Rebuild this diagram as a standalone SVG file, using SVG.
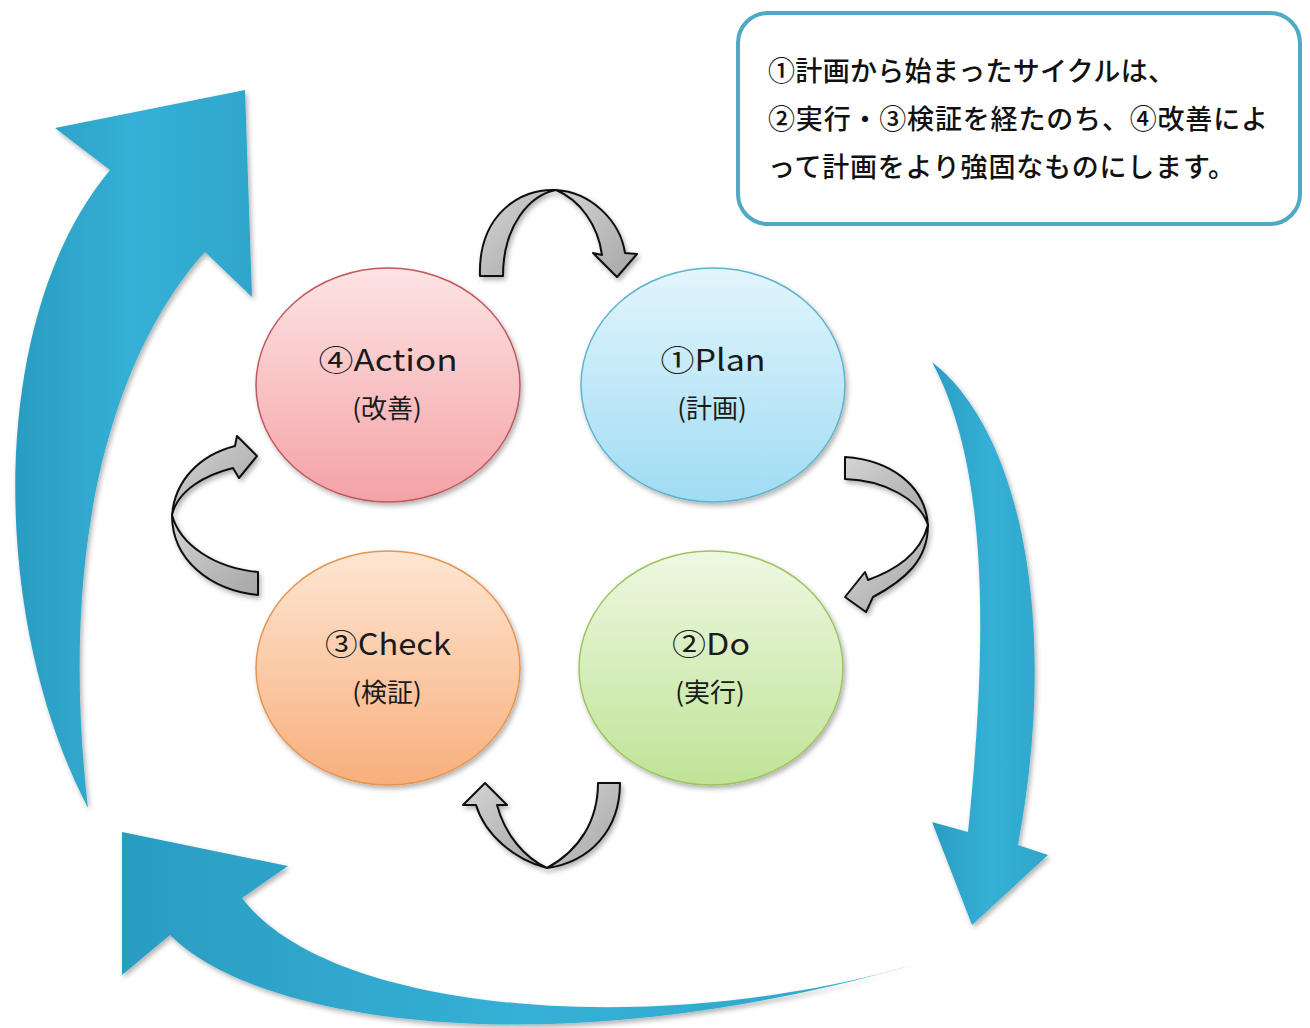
<svg xmlns="http://www.w3.org/2000/svg" width="1310" height="1028" viewBox="0 0 1310 1028">
<style>
.lbl{font-family:"Noto Sans CJK JP","Noto Sans",sans-serif;fill:#1a1a1a;text-anchor:middle}
.big{font-size:30px}
.sub{font-size:26px}
.note{font-family:"Noto Sans CJK JP",sans-serif;font-size:27px;font-weight:500;fill:#111}
.gray{fill:url(#gGray);stroke:#111;stroke-width:2;stroke-linejoin:round;filter:url(#sh)}
.blue{fill:url(#gBlue);filter:url(#sh)}
</style>
<defs>
<filter id="sh" x="-20%" y="-20%" width="140%" height="140%">
<feDropShadow dx="2" dy="3" stdDeviation="2.5" flood-color="#000" flood-opacity="0.3"/>
</filter>
<linearGradient id="gGray" x1="0" y1="0" x2="1" y2="1">
<stop offset="0" stop-color="#d4d4d4"/><stop offset="1" stop-color="#a6a6a6"/>
</linearGradient>
<linearGradient id="gBlue" x1="0" y1="0" x2="1" y2="0">
<stop offset="0" stop-color="#2b9cc2"/><stop offset="0.5" stop-color="#35b0d6"/><stop offset="1" stop-color="#2fa6cc"/>
</linearGradient>
<linearGradient id="gRed" x1="0" y1="0" x2="0" y2="1">
<stop offset="0" stop-color="#fde4e4"/><stop offset="1" stop-color="#f4a2a6"/>
</linearGradient>
<linearGradient id="gBlueC" x1="0" y1="0" x2="0" y2="1">
<stop offset="0" stop-color="#e3f5fc"/><stop offset="1" stop-color="#9fdcf3"/>
</linearGradient>
<linearGradient id="gOrange" x1="0" y1="0" x2="0" y2="1">
<stop offset="0" stop-color="#fee6d3"/><stop offset="1" stop-color="#f8af7c"/>
</linearGradient>
<linearGradient id="gGreen" x1="0" y1="0" x2="0" y2="1">
<stop offset="0" stop-color="#eef8e2"/><stop offset="1" stop-color="#c0e396"/>
</linearGradient>
</defs>
<rect width="1310" height="1028" fill="#fff"/>

<g id="connectors">
<!-- big blue arrows -->
<path class="blue" d="M88,808 C-10,620 -15,320 110,170 L55,128 L245,90 L252,297 L205,252 C125,340 55,520 88,808 Z"/>
<path class="blue" d="M932,362 C1020,430 1060,620 1018,845 L1048,855 L972,925 L932,822 L968,832 C990,620 985,460 932,362 Z"/>
<path class="blue" d="M919,963 C660,1040 330,1015 242,898 L288,866 L122,832 L122,975 L170,935 C260,1025 560,1068 919,963 Z"/>
<!-- gray ribbon arrows -->
<path class="gray" d="M480,276 C478,215 520,188 556,190 C530,195 503,225 503,276 Z"/>
<path class="gray" d="M556,190 C590,192 620,220 625,253 L637,254 L617,277 L593,253 L602,255 C598,225 580,200 556,190 Z"/>
<path class="gray" d="M172,515 C175,480 200,455 235,446 L237,436 L257,456 L239,478 L233,468 C205,475 178,490 172,515 Z"/>
<path class="gray" d="M172,515 C172,560 210,590 258,595 L258,572 C215,568 180,545 172,515 Z"/>
<path class="gray" d="M845,457 C890,460 925,485 928,525 C920,500 885,480 845,479 Z"/>
<path class="gray" d="M928,525 C928,560 905,580 873,597 L866,612 L845,597 L865,572 L868,580 C895,570 920,555 928,525 Z"/>
<path class="gray" d="M598,783 L620,783 C620,830 590,862 547,868 C580,850 598,820 598,783 Z"/>
<path class="gray" d="M547,868 C515,860 485,835 476,805 L463,805 L485,783 L507,805 L497,805 C505,835 525,858 547,868 Z"/>
</g>

<g id="action">
<ellipse cx="388" cy="385" rx="132" ry="117" fill="url(#gRed)" stroke="#c0585c" stroke-width="1.5" filter="url(#sh)"/>
<text class="lbl big" x="388" y="371" textLength="139" lengthAdjust="spacingAndGlyphs">④Action</text>
<text class="lbl sub" x="387" y="418">(改善)</text>
</g>
<g id="plan">
<ellipse cx="713" cy="385" rx="132" ry="117" fill="url(#gBlueC)" stroke="#5db3cd" stroke-width="1.5" filter="url(#sh)"/>
<text class="lbl big" x="713" y="371" textLength="105" lengthAdjust="spacingAndGlyphs">①Plan</text>
<text class="lbl sub" x="712" y="418">(計画)</text>
</g>
<g id="check">
<ellipse cx="388" cy="668" rx="132" ry="117" fill="url(#gOrange)" stroke="#e8944e" stroke-width="1.5" filter="url(#sh)"/>
<text class="lbl big" x="388" y="655" textLength="126" lengthAdjust="spacingAndGlyphs">③Check</text>
<text class="lbl sub" x="387" y="702">(検証)</text>
</g>
<g id="do">
<ellipse cx="711" cy="668" rx="132" ry="117" fill="url(#gGreen)" stroke="#9cc45c" stroke-width="1.5" filter="url(#sh)"/>
<text class="lbl big" x="711" y="655" textLength="78" lengthAdjust="spacingAndGlyphs">②Do</text>
<text class="lbl sub" x="710" y="702">(実行)</text>
</g>

<g id="note">
<rect x="738" y="13" width="562" height="211" rx="30" fill="#fff" stroke="#4fa8c4" stroke-width="4"/>
<text class="note" x="768" y="81" textLength="407">①計画から始まったサイクルは、</text>
<text class="note" x="768" y="129" textLength="500">②実行・③検証を経たのち、④改善によ</text>
<text class="note" x="768" y="177" textLength="467">って計画をより強固なものにします。</text>
</g>
</svg>
